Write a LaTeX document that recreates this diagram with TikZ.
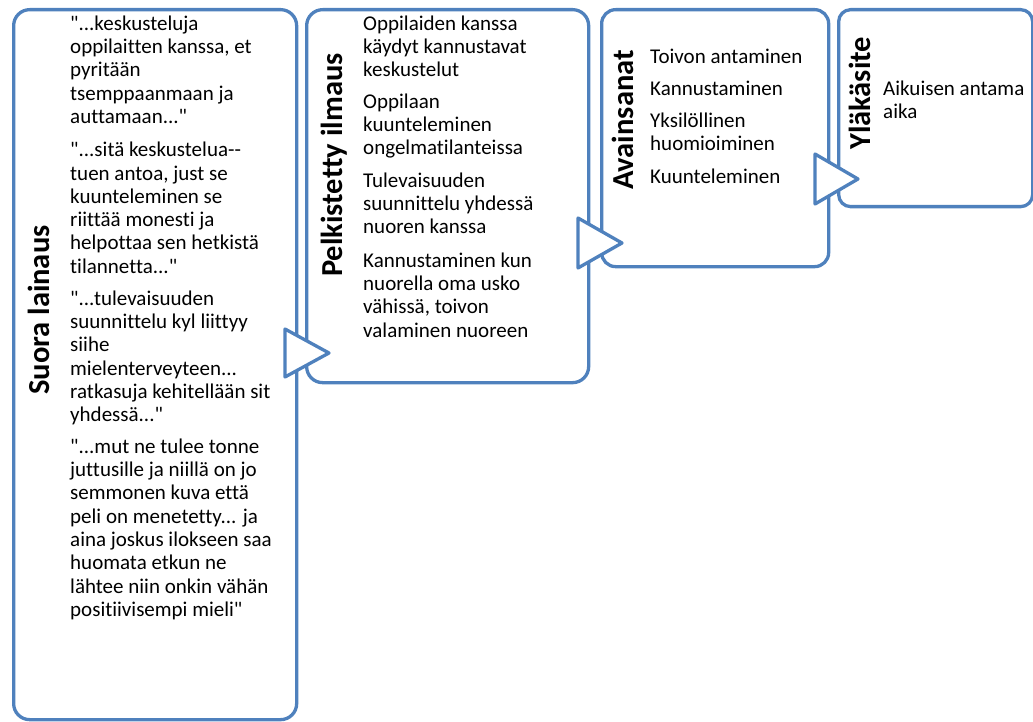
\documentclass[tikz,border=0pt]{standalone}
\usepackage{fontspec}
\setmainfont{Carlito}[Ligatures={TeXOff,CommonOff}]
\definecolor{acc}{RGB}{79,129,189}
\newcommand{\fl}{\rule{0pt}{18pt}}
\tikzset{
  box/.style={draw=acc, line width=3.3pt, fill=white, inner sep=0pt, anchor=north west, rounded corners=#1},
  tri/.style={draw=acc, line width=3.3pt, fill=white, line join=round},
  body/.style={anchor=north west, inner sep=0pt, align=left, font=\fontsize{21}{23.3}\selectfont},
  head/.style={anchor=base west, inner sep=0pt, rotate=90, font=\fontsize{30.5}{36}\selectfont\bfseries}
}
\begin{document}
\begin{tikzpicture}[x=1pt,y=-1pt]
\useasboundingbox (0,0) rectangle (1033,722);
% boxes
\node[box=16pt, minimum width=283pt, minimum height=710pt] (b1) at (12,8) {};
\node[box=16pt, minimum width=282pt, minimum height=373pt] (b2) at (305,8) {};
\node[box=14pt, minimum width=227pt, minimum height=257pt] (b3) at (600,8) {};
\node[box=12pt, minimum width=194pt, minimum height=197pt] (b4) at (837,8) {};
% arrows
\draw[tri] (285,329) -- (329,353) -- (285,377) -- cycle;
\draw[tri] (578,218) -- (622,243) -- (578,268) -- cycle;
\draw[tri] (815,154) -- (858,179) -- (815,204) -- cycle;
% headers
\node[head] (h1) at (49,395) {Suora lainaus};
\node[head] (h2) at (342,277) {Pelkistetty ilmaus};
\node[head] (h3) at (633,190) {Avainsanat};
\node[head] (h4) at (870,150) {Yläkäsite};
% box 1 texts (first baselines at 30, 156.5, 305, 453)
\node[body] (q1) at (70,12) {\fl"...keskusteluja\\oppilaitten kanssa, et\\pyritään\\tsemppaanmaan ja\\auttamaan..."};
\node[body] (q2) at (70,138.5) {\fl"...sitä keskustelua--\\tuen antoa, just se\\kuunteleminen se\\riittää monesti ja\\helpottaa sen hetkistä\\tilannetta..."};
\node[body] (q3) at (70,287) {\fl"...tulevaisuuden\\suunnittelu kyl liittyy\\siihe\\mielenterveyteen...\\ratkasuja kehitellään sit\\yhdessä..."};
\node[body] (q4) at (70,435) {\fl"...mut ne tulee tonne\\juttusille ja niillä on jo\\semmonen kuva että\\peli on menetetty... ja\\aina joskus ilokseen saa\\huomata etkun ne\\lähtee niin onkin vähän\\positiivisempi mieli"};
% box 2 texts (first baselines at 30, 108, 187, 267)
\node[body] (p1) at (363,12) {\fl Oppilaiden kanssa\\käydyt kannustavat\\keskustelut};
\node[body] (p2) at (363,90) {\fl Oppilaan\\kuunteleminen\\ongelmatilanteissa};
\node[body] (p3) at (363,169) {\fl Tulevaisuuden\\suunnittelu yhdessä\\nuoren kanssa};
\node[body] (p4) at (363,249) {\fl Kannustaminen kun\\nuorella oma usko\\vähissä, toivon\\valaminen nuoreen};
% box 3 texts (baselines 63, 95, 127, 183)
\node[body] (k1) at (650,45) {\fl Toivon antaminen};
\node[body] (k2) at (650,77) {\fl Kannustaminen};
\node[body] (k3) at (650,109) {\fl Yksilöllinen\\huomioiminen};
\node[body] (k4) at (650,165) {\fl Kuunteleminen};
% box 4 text (baseline 95)
\node[body] (y1) at (883,77) {\fl Aikuisen antama\\aika};
\end{tikzpicture}
\end{document}
